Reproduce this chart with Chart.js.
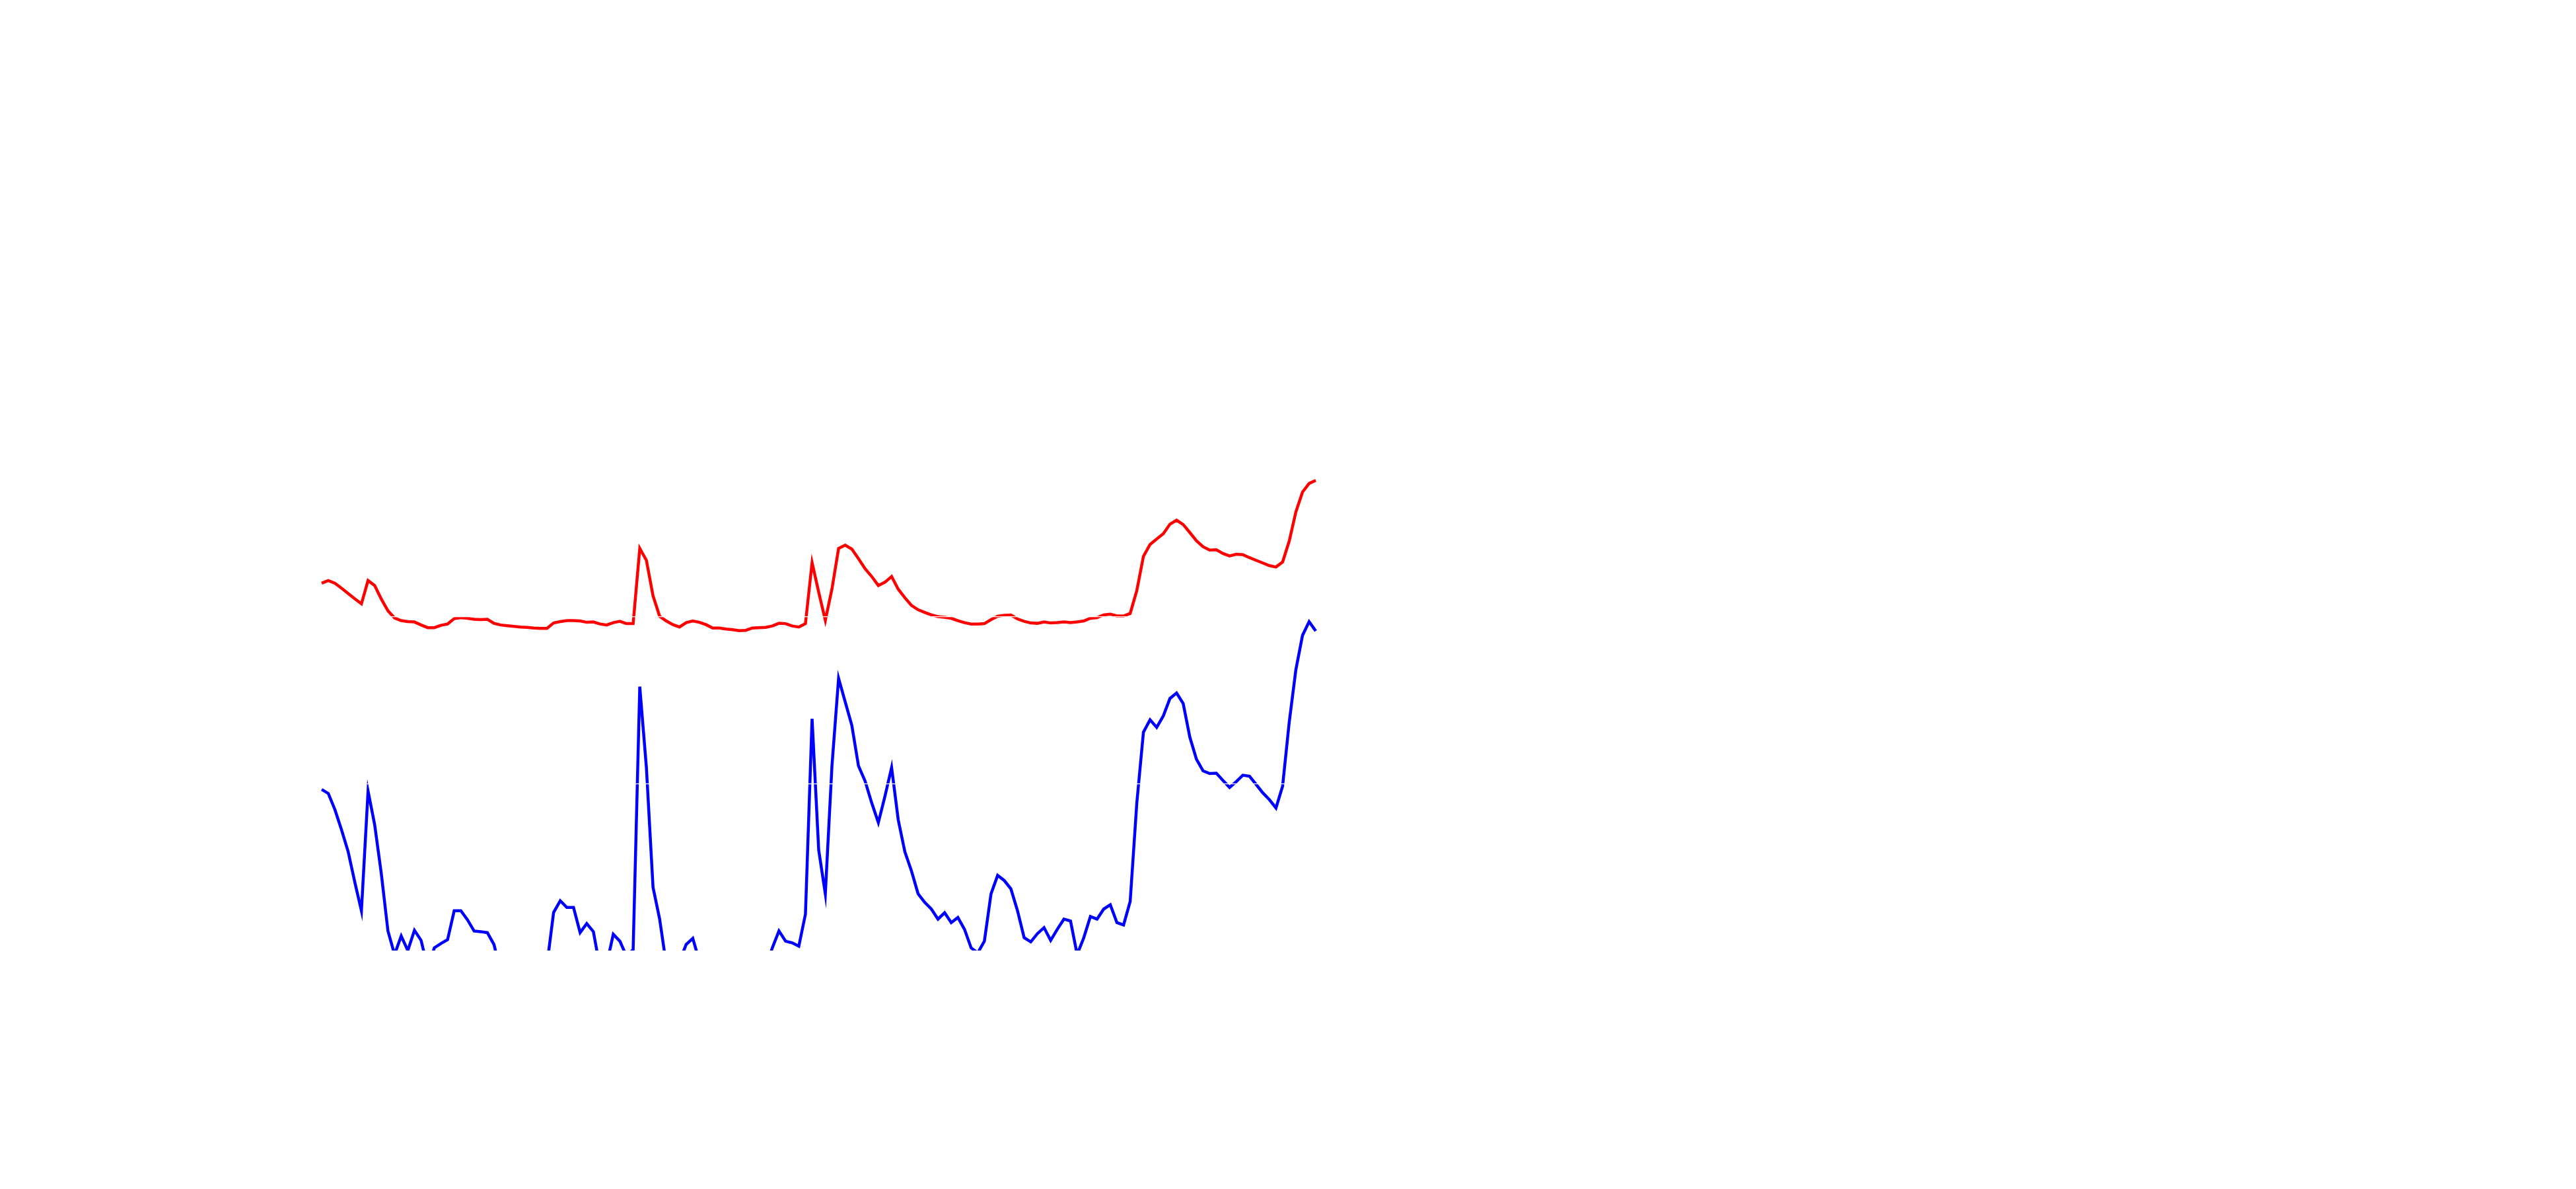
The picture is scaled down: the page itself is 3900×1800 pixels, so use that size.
<!DOCTYPE html>
<html>
<head>
<meta charset="utf-8">
<script src="https://cdn.jsdelivr.net/npm/chart.js@4"></script>
<style>
html,body{margin:0;padding:0;background:#ffffff;}
#wrap{width:3900px;height:1800px;position:relative;}
</style>
</head>
<body>
<div id="wrap"><canvas id="c" width="3900" height="1800"></canvas></div>
<script>
// Series values (units: one white gridline step = 100)
const redSeries = [
220.2,221.8,220.2,217.2,214.0,210.9,207.9,221.8,218.8,210.7,
203.7,199.4,197.8,197.2,197.0,195.2,193.6,193.6,195.0,195.8,
199.0,199.6,199.2,198.6,198.4,198.6,196.2,195.2,194.8,194.4,
194.0,193.8,193.4,193.2,193.2,196.4,197.2,197.8,197.8,197.6,
196.8,197.0,195.8,195.2,196.6,197.4,196.0,196.0,241.0,233.9,
212.7,200.4,197.6,195.4,194.0,196.6,197.6,196.8,195.4,193.4,
193.4,192.8,192.4,191.8,192.0,193.4,193.6,193.8,194.6,196.2,
196.0,194.6,194.0,196.0,232.5,214.8,198.0,216.8,241.0,243.0,
240.6,234.9,228.9,224.2,218.8,220.8,224.2,216.6,211.5,206.9,
204.3,202.7,201.2,200.2,199.8,199.2,197.8,196.6,195.8,195.8,
196.0,198.4,200.4,201.0,201.2,198.8,197.4,196.4,196.2,197.0,
196.4,196.6,197.0,196.6,197.0,197.6,199.2,199.6,201.2,201.7,
200.6,200.6,202.1,215.8,236.3,243.4,246.6,249.8,255.5,257.9,
255.3,250.5,245.6,242.0,240.0,240.2,238.0,236.5,237.5,237.3,
235.5,233.9,232.3,230.7,229.9,232.9,245.4,262.8,274.7,279.9,
281.7
];
const blueSeries = [
96.8,94.4,84.7,72.6,59.5,41.3,24.2,95.8,75.6,46.4,
12.1,-2.0,9.1,0.4,12.5,6.5,-10,2.0,4.6,6.9,
24.2,24.2,18.8,12.1,11.7,11.1,4.0,-12,-25,-30,
-32,-28,-26,-20,-8,23.2,30.2,26.2,26.2,11.1,
16.5,11.7,-10,-8,10.1,6.0,-3,1.0,158.3,109.9,
38.3,19.2,-8,-15,-6,4.0,7.7,-6,-18,-25,
-30,-28,-32,-35,-30,-26,-20,-10,2.0,12.1,
6.0,5.0,3.0,22.2,139.1,60.5,34.3,110.9,163.3,149.2,
135.1,110.9,101.8,88.7,77.0,92.8,109.9,78.6,59.5,48.0,
34.3,29.2,25.2,19.2,23.0,17.1,20.2,13.1,2.0,-1.0,
6.0,34.3,45.4,42.3,37.3,24.2,8.1,5.6,10.5,14.1,
6.5,13.1,19.2,18.1,-2.0,8.1,20.8,19.2,25.2,27.8,
17.1,15.7,29.8,88.7,131.1,138.5,133.9,140.8,151.2,154.5,
148.2,128.1,114.9,107.9,106.3,106.5,102.2,98.0,101.4,105.3,
104.7,99.8,94.8,90.7,85.7,98.8,137.1,168.4,188.9,197.2,
191.6
];
const categories = redSeries.map((_, i) => String(i + 1));
const yMin = 0;
const yMax = 500;
const yStep = 100;

new Chart(document.getElementById('c'), {
  type: 'line',
  data: {
    labels: categories,
    datasets: [
      {data: redSeries, borderColor: '#ff0000', backgroundColor: '#ff0000', borderWidth: 4.5, pointRadius: 0, tension: 0, fill: false, clip: {left: 5, right: 5, top: 5, bottom: 0}},
      {data: blueSeries, borderColor: '#0000ff', backgroundColor: '#0000ff', borderWidth: 4.5, pointRadius: 0, tension: 0, fill: false, clip: {left: 5, right: 5, top: 5, bottom: 0}}
    ]
  },
  options: {
    responsive: false,
    animation: false,
    events: [],
    layout: {padding: {left: 487, right: 1908, top: 175, bottom: 360}},
    plugins: {legend: {display: false}, tooltip: {enabled: false}, title: {display: false}},
    scales: {
      x: {type: 'category', display: false, offset: false, grid: {display: false}},
      y: {
        min: yMin, max: yMax,
        ticks: {display: false, stepSize: yStep},
        grid: {color: '#ffffff', lineWidth: 1.2, drawTicks: false, z: 1},
        border: {display: false}
      }
    }
  }
});
</script>
</body>
</html>
